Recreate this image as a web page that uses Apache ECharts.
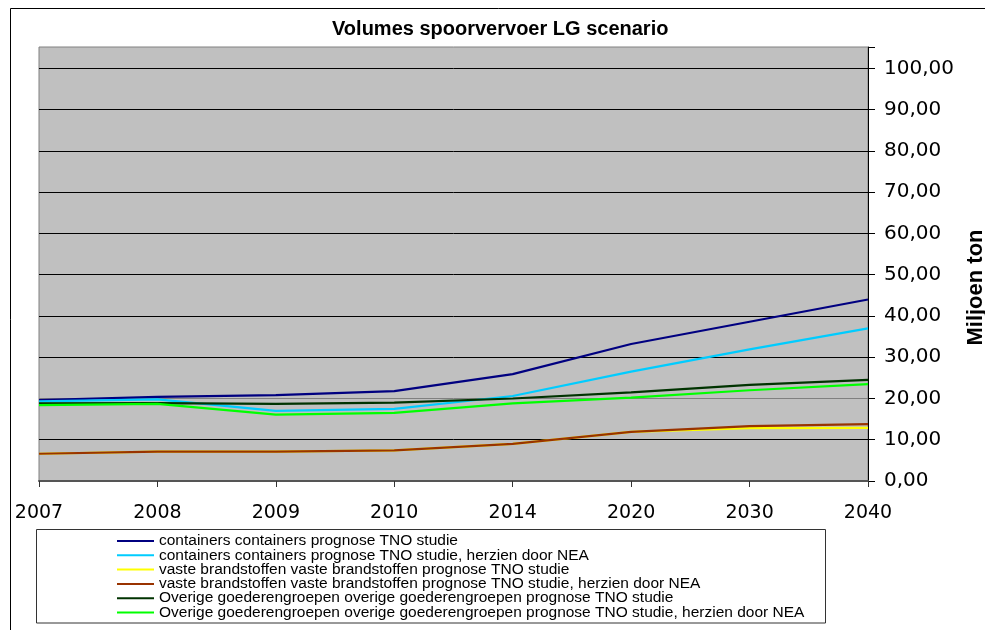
<!DOCTYPE html>
<html>
<head>
<meta charset="utf-8">
<script src="https://cdn.jsdelivr.net/npm/echarts@6/dist/echarts.min.js"></script>
<style>
  html, body { margin: 0; padding: 0; background: #fff; }
  #chart { width: 985px; height: 630px; }
</style>
</head>
<body>
<div id="chart"></div>
<script>
// years on the category axis
const years = ['2007', '2008', '2009', '2010', '2014', '2020', '2030', '2040']

// miljoen ton
const containersTno = [19.6, 20.4, 20.8, 21.8, 25.9, 33.2, 38.6, 44.0]
const containersNea = [19.3, 19.8, 17.0, 17.5, 20.6, 26.5, 31.9, 37.0]
const vasteTno = [6.6, 7.1, 7.1, 7.4, 9.0, 11.9, 12.8, 12.9]
const vasteNea = [6.6, 7.1, 7.1, 7.4, 9.0, 11.9, 13.3, 13.8]
const overigeTno = [18.8, 18.9, 18.7, 19.0, 20.0, 21.5, 23.3, 24.5]
const overigeNea = [18.4, 18.7, 16.1, 16.5, 18.8, 20.2, 22.0, 23.5]

const seriesDefs = [
  { name: 'containers containers prognose TNO studie', data: containersTno, color: '#000080' },
  { name: 'containers containers prognose TNO studie, herzien door NEA', data: containersNea, color: '#00CCFF' },
  { name: 'vaste brandstoffen vaste brandstoffen prognose TNO studie', data: vasteTno, color: '#FFFF00' },
  { name: 'vaste brandstoffen vaste brandstoffen prognose TNO studie, herzien door NEA', data: vasteNea, color: '#993300' },
  { name: 'Overige goederengroepen overige goederengroepen prognose TNO studie', data: overigeTno, color: '#003300' },
  { name: 'Overige goederengroepen overige goederengroepen prognose TNO studie, herzien door NEA', data: overigeNea, color: '#00FF00' }
]

// gridline colours for 10..100 (the 20 line shows grey in the original)
const gridColors = ['#000', '#808080', '#000', '#000', '#000', '#000', '#000', '#000', '#000', '#000']

const chart = echarts.init(document.getElementById('chart'))

const option = {
  animation: false,
  backgroundColor: '#fff',
  title: {
    text: 'Volumes spoorvervoer LG scenario',
    left: 332,
    top: 19,
    padding: 0,
    textStyle: { fontFamily: 'Liberation Sans, Arial', fontWeight: 'bold', fontSize: 20, color: '#000' }
  },
  graphic: [
    { type: 'rect', shape: { x: 10.5, y: 8.5, width: 1100, height: 700 }, style: { fill: 'none', stroke: '#000', lineWidth: 1 }, silent: true },
    { type: 'rect', shape: { x: 36.5, y: 529.5, width: 789, height: 93.5 }, style: { fill: 'none', stroke: '#333', lineWidth: 1 }, silent: true }
  ],
  legend: {
    orient: 'vertical',
    left: 117,
    top: 533,
    padding: 0,
    itemGap: -1.7,
    itemWidth: 37,
    itemHeight: 2,
    icon: 'rect',
    textStyle: { fontFamily: 'Liberation Sans, Arial', fontSize: 15.5, lineHeight: 14, color: '#000' },
    data: seriesDefs.map(s => s.name)
  },
  grid: {
    left: 39,
    right: 117,
    top: 47,
    bottom: 149,
    show: true,
    backgroundColor: '#C0C0C0',
    borderColor: '#808080',
    borderWidth: 1,
    containLabel: false,
    outerBoundsMode: 'none'
  },
  xAxis: {
    type: 'category',
    data: years,
    boundaryGap: false,
    axisLine: { lineStyle: { color: '#555', width: 2 } },
    axisTick: { length: 6, lineStyle: { color: '#333' } },
    axisLabel: { margin: 23, fontFamily: 'DejaVu Sans', fontSize: 19, color: '#000' },
    splitLine: { show: false }
  },
  yAxis: {
    type: 'value',
    position: 'right',
    min: 0,
    max: 105.2,
    interval: 10,
    name: 'Miljoen ton',
    nameLocation: 'middle',
    nameGap: 95,
    nameTextStyle: { fontFamily: 'Liberation Sans, Arial', fontWeight: 'bold', fontSize: 22, color: '#000', padding: [0, 47, 0, 0] },
    axisLine: { show: true, lineStyle: { color: '#000', width: 1 } },
    axisTick: { show: true, length: 7, lineStyle: { color: '#000' } },
    axisLabel: {
      margin: 16,
      fontFamily: 'DejaVu Sans',
      fontSize: 20,
      color: '#000',
      formatter: v => (v > 100 ? '' : v.toFixed(2).replace('.', ','))
    },
    splitLine: { show: true, showMinLine: false, showMaxLine: false, lineStyle: { color: gridColors, width: 1 } }
  },
  series: seriesDefs.map(s => ({
    name: s.name,
    type: 'line',
    data: s.data,
    color: s.color,
    symbol: 'none',
    lineStyle: { width: 2.2, color: s.color }
  }))
}

chart.setOption(option)
</script>
</body>
</html>
